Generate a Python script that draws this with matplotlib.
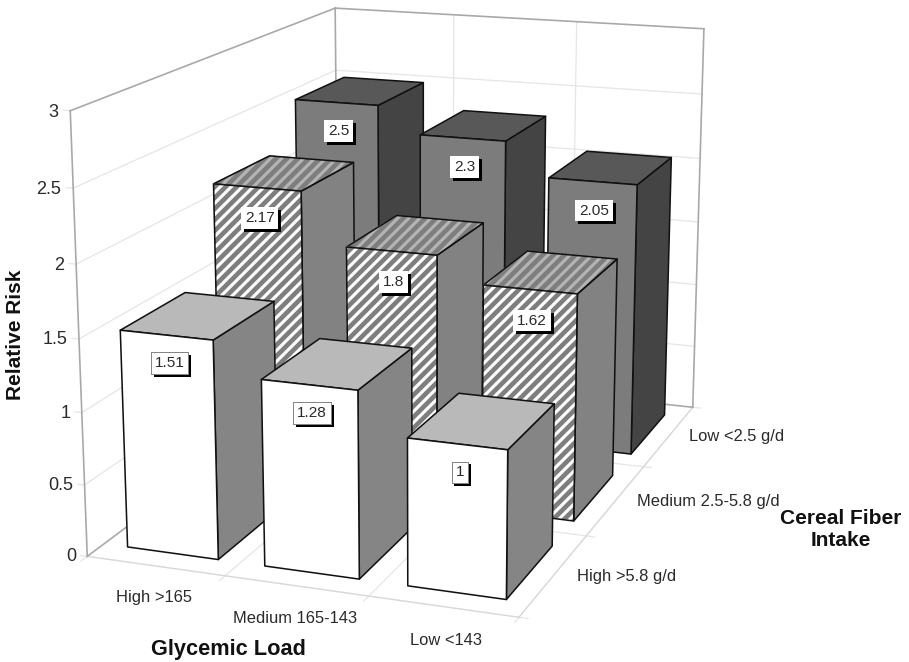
import matplotlib
matplotlib.use('Agg')
import matplotlib.patheffects as pe
import matplotlib.pyplot as plt
from mpl_toolkits.mplot3d import proj3d
from mpl_toolkits.mplot3d.art3d import Poly3DCollection

# %%
# Values

glycemic_labels = ['High >165', 'Medium 165-143', 'Low <143']
fiber_labels = ['High >5.8 g/d', 'Medium 2.5-5.8 g/d', 'Low <2.5 g/d']
risk_ticks = [0, 0.5, 1, 1.5, 2, 2.5, 3]
risk_high_fiber = [1.51, 1.28, 1]
risk_medium_fiber = [2.17, 1.8, 1.62]
risk_low_fiber = [2.5, 2.3, 2.05]
risk = [risk_high_fiber, risk_medium_fiber, risk_low_fiber]

# %%
# Camera, fitted against the corners of the box and the bars

W, H = 909, 662
DPI = 132
BAR_DX, BAR_DY = 0.6659, 0.6623
SCALE, OFF_X, OFF_Y = 4562.44, 415.75, 275.32

plt.rcParams['font.family'] = ['Liberation Sans', 'DejaVu Sans']
plt.rcParams['hatch.linewidth'] = 1.7

fig = plt.figure(figsize=(W / DPI, H / DPI), dpi=DPI)
ax = fig.add_subplot(projection='3d', computed_zorder=False)
ax.set_xlim(0, 3)
ax.set_ylim(0, 3)
ax.set_zlim(0, 3)
ax.view_init(15.0103, -69.8441, 0.0666)
ax.set_proj_type('persp', focal_length=0.5383)
ax.set_box_aspect((0.9995, 1.4881, 1))
ax.set_axis_off()
ax.patch.set_alpha(0)

vx0, vx1 = ax.viewLim.intervalx
vy0, vy1 = ax.viewLim.intervaly
side = SCALE * (vx1 - vx0)
ax.set_position([(OFF_X + SCALE * vx0) / W, (H - (OFF_Y - SCALE * vy0)) / H,
                 side / W, side / H])

TEXT = '#2a2a2a'
EDGE = '#a8a8a8'
GRID = '#e6e6e6'
FLOOR = '#d8d8d8'


def line(p, q, color=GRID, lw=0.7, zorder=1):
    ax.plot(*zip(p, q), color=color, lw=lw, zorder=zorder)


def label(x, y, z, text, **kwargs):
    X, Y, _ = proj3d.proj_transform(x, y, z, ax.get_proj())
    return ax.text2D(X, Y, text, transform=ax.transData, color=TEXT, **kwargs)


def face(verts, color, hatch_color, zorder):
    if hatch_color:
        ax.add_collection3d(Poly3DCollection([verts], facecolors=color, edgecolors=hatch_color,
                                             hatch='////', linewidths=0, zorder=zorder))
    else:
        ax.add_collection3d(Poly3DCollection([verts], facecolors=color, edgecolors=color,
                                             linewidths=0, zorder=zorder))
    ax.add_collection3d(Poly3DCollection([verts], facecolors=[(0, 0, 0, 0)], edgecolors='#111111',
                                         linewidths=0.85, zorder=zorder + 0.5))


# %%
# Walls and floor

for t in risk_ticks[1:-1]:
    line((0, 0, t), (0, 3, t))
    line((0, 3, t), (3, 3, t))
for k in (1, 2):
    line((k, 3, 0), (k, 3, 3))
    line((k, 0, 0), (k, 3, 0))
    line((0, k, 0), (3, k, 0))
for t in risk_ticks:
    line((-0.05, 0, t), (0, 0, t))
for k in (0, 1, 2, 3):
    line((k, -0.06, 0), (k, 0, 0))
    line((3, k, 0), (3.06, k, 0))

line((0, 0, 0), (3, 0, 0), FLOOR, 0.8, 2)
line((3, 0, 0), (3, 3, 0), FLOOR, 0.8, 2)
for p, q in [((0, 0, 0), (0, 0, 3)), ((0, 0, 3), (0, 3, 3)), ((0, 3, 3), (3, 3, 3)),
             ((3, 3, 3), (3, 3, 0)), ((3, 3, 0), (0, 3, 0)), ((0, 3, 0), (0, 0, 0)),
             ((0, 3, 0), (0, 3, 3))]:
    line(p, q, EDGE, 0.9, 2)

# %%
# Bars, back row first so the front rows cover them

styles = [dict(front='#ffffff', top='#b9b9b9', side='#858585', hatch_front=None, hatch_top=None, box='#808080'),
          dict(front='#7e7e7e', top='#7e7e7e', side='#828282', hatch_front='#ffffff', hatch_top='#b4b4b4', box='none'),
          dict(front='#7c7c7c', top='#585858', side='#444444', hatch_front=None, hatch_top=None, box='none')]
label_drop = [0.19, 0.22, 0.22]

order = 10
for j in (2, 1, 0):
    st = styles[j]
    for i, h in enumerate(risk[j]):
        x0, x1 = i + 0.5 - BAR_DX / 2, i + 0.5 + BAR_DX / 2
        y0, y1 = j + 0.5 - BAR_DY / 2, j + 0.5 + BAR_DY / 2
        face([(x1, y0, 0), (x1, y1, 0), (x1, y1, h), (x1, y0, h)], st['side'], None, order)
        face([(x0, y0, h), (x1, y0, h), (x1, y1, h), (x0, y1, h)], st['top'], st['hatch_top'], order + 1)
        face([(x0, y0, 0), (x1, y0, 0), (x1, y0, h), (x0, y0, h)], st['front'], st['hatch_front'], order + 2)
        order += 3

# %%
# Value boxes with their drop shadow

for j in (2, 1, 0):
    for i, h in enumerate(risk[j]):
        txt = label(i + 0.52, j + 0.5 - BAR_DY / 2, h - label_drop[j], f'{h:g}',
                    fontsize=8.4, ha='center', va='center', zorder=100,
                    bbox=dict(boxstyle='square,pad=0.25', fc='white', ec=styles[j]['box'], lw=0.5))
        txt.get_bbox_patch().set_path_effects(
            [pe.withSimplePatchShadow(offset=(1.6, -1.6), shadow_rgbFace='black', alpha=1), pe.Normal()])

# %%
# Tick labels and titles

for t in risk_ticks:
    label(-0.085, 0, t - 0.015, f'{t:g}', fontsize=9.8, ha='right', va='center', zorder=100)
for x, text in zip([0.73, 1.70, 2.69], glycemic_labels):
    label(x, -0.33, 0, text, fontsize=9, ha='center', va='center', zorder=100)
for j, text in enumerate(fiber_labels):
    label(3.145, j + 0.52, 0, text, fontsize=9, ha='left', va='center', zorder=100)

fig.text(228 / W, 1 - 650 / H, 'Glycemic Load', fontsize=11.9, fontweight='bold',
         ha='center', va='center', color='#111111')
fig.text(841 / W, 1 - 530 / H, 'Cereal Fiber\nIntake', fontsize=11.4, fontweight='bold',
         ha='center', va='center', color='#111111')
fig.text(16 / W, 1 - 335 / H, 'Relative Risk', fontsize=11.4, fontweight='bold',
         ha='center', va='center', rotation=90, color='#111111')

fig.savefig('out.png', dpi=DPI)
